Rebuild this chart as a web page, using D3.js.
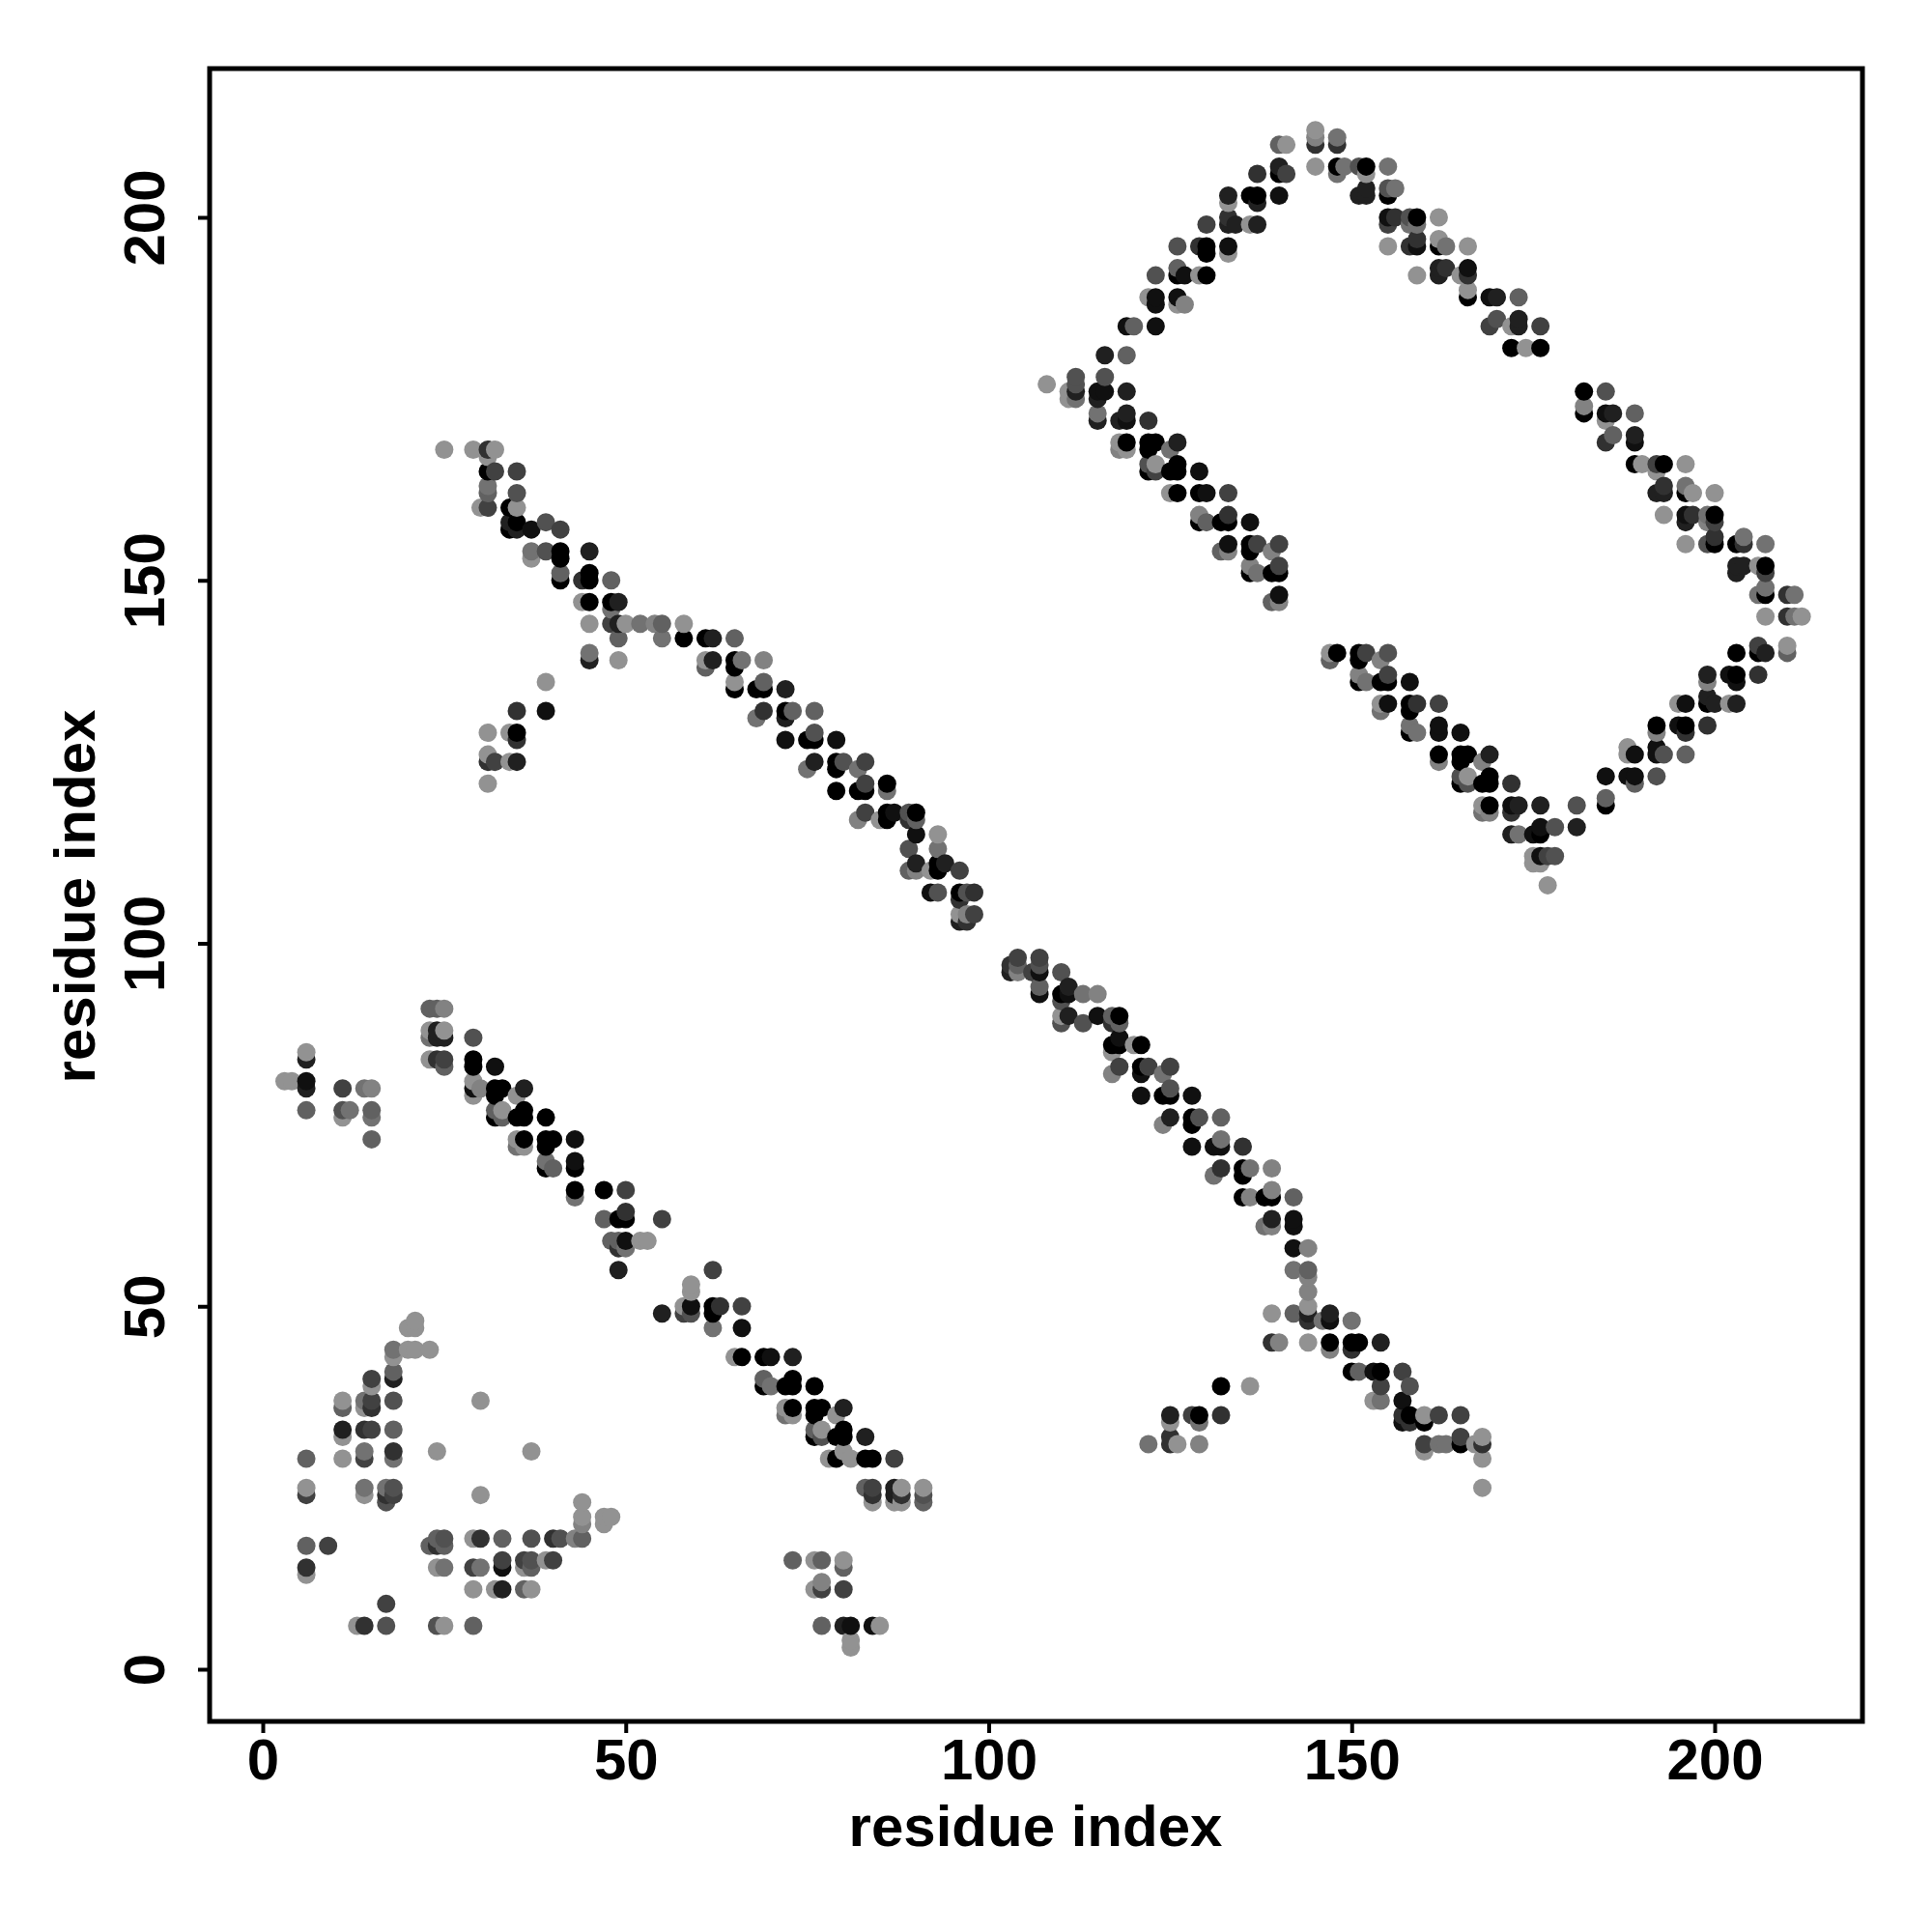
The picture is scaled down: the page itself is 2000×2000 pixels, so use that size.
<!DOCTYPE html>
<html><head><meta charset="utf-8">
<script src="https://cdn.jsdelivr.net/npm/d3@7"></script>
<style>html,body{margin:0;background:#fff}svg{display:block}text{font-family:"Liberation Sans",sans-serif;font-weight:700;fill:#000}</style>
</head><body><svg id="c" width="2000" height="2000"></svg>
<script>
// each contact: [residue i, residue j, confidence 0..9]
const nativeLowerLeft=[[13,6,0],[14,6,6],[17,6,4],[24,6,4],[25,6,0],[29,6,3],[17,9,5],[29,11,0],[32,11,0],[33,11,7],[36,11,3],[37,11,0],
[6,13,0],[6,14,6],[24,14,0],[25,14,2],[29,14,5],[30,14,2],[33,14,8],[36,14,0],[37,14,3],
[33,15,5],[36,15,5],[37,15,4],[39,15,0],[40,15,5],
[6,17,3],[9,17,5],[23,17,3],[24,17,6],[25,17,3],[24,18,3],[25,18,4],[29,18,0],[30,18,6],[33,18,3],[37,18,4],[40,18,6],[41,18,4],[43,18,1],[44,18,3],
[44,20,1],[47,20,0],[44,21,0],[47,21,0],[48,21,0],[44,23,0],[17,23,4],[6,24,5],[14,24,0],[17,24,6],[18,24,5],[30,24,0],[6,25,0],[14,25,2],[17,25,2],[18,25,4],
[6,29,3],[11,29,0],[14,29,5],[18,29,2],[14,30,2],[18,30,6],[24,30,0],[37,30,0],[11,32,0],[11,33,7],[14,33,6],[15,33,5],[18,33,3],[11,36,3],[14,36,0],[15,36,6],[11,37,0],[14,37,2],[15,37,5],[18,37,4],[30,37,0],[15,39,0],[15,40,5],[18,40,7],[18,41,3],[18,43,0],[18,44,2],[20,44,0],[21,44,0],[23,44,0],[20,47,0],[21,47,0],[21,48,0]];
const strandUpperLeft=[[6,85,0],[6,84,7],[3,81,0],[4,81,0],[6,81,8],[6,80,7],[6,77,3],[11,80,5],[14,80,2],[15,80,1],[11,77,4],[11,76,0],[12,77,2],[15,77,3],[15,76,2],[15,73,3],
[23,91,3],[24,91,3],[25,91,1],[23,88,0],[24,88,7],[25,88,0],[23,87,2],[24,87,7],[25,87,7],[23,84,0],[24,84,6],[25,84,5],[25,83,3],
[29,87,4],[29,84,9],[29,83,9],[29,81,0],[29,80,8],[30,80,1],[29,79,0],[32,83,8],[32,80,9],[33,80,9],[36,80,7],[32,79,9],[35,79,0],[32,77,3],[33,77,0],[36,77,9],[32,76,9],[33,76,3],[35,76,9],[36,76,9],[39,76,9],
[35,73,0],[36,73,9],[39,73,9],[40,73,9],[43,73,8],[35,72,2],[36,72,0],[39,72,9],[39,70,2],[43,70,8],[39,69,9],[40,69,3],[43,69,9],
[43,66,9],[47,66,9],[50,66,5],[43,65,2],[47,62,3],[49,62,9],[50,62,9],[50,63,6],[55,62,5],[48,59,3],[49,59,3],[50,59,8],[52,59,0],[53,59,0],[49,58,6],[50,58,2],[49,55,7]];
const strandLowerMid=[[62,55,5],[59,53,0],[59,52,0],[59,50,8],[58,50,0],[59,49,4],[58,49,5],[55,49,7],[62,50,9],[63,50,6],[66,50,5],[62,49,9],[62,47,2],[66,47,8],
[65,43,0],[66,43,9],[69,43,9],[70,43,8],[73,43,7],[69,40,3],[70,39,2],[69,39,9],[72,39,9],[73,40,9],[73,39,9],[76,39,9],
[72,36,0],[73,36,9],[76,36,9],[77,36,9],[80,36,7],[72,35,2],[73,35,0],[76,35,9],[79,35,0],[76,33,3],[77,33,0],[80,33,9],[76,32,9],[77,32,4],[79,32,9],[80,32,9],[83,32,7],
[78,29,0],[79,29,9],[80,30,0],[81,29,0],[83,29,9],[84,29,9],[87,29,5],[83,25,3],[84,25,5],[84,24,6],[84,23,0],[87,25,7],[87,24,7],[87,23,0],[88,25,0],[88,24,6],[88,23,0],[91,25,0],[91,24,4],[91,23,3],
[73,15,3],[76,15,0],[77,15,3],[80,15,0],[80,14,3],[77,12,1],[76,11,0],[77,11,5],[80,11,5],[77,6,3],[80,6,7],[81,6,8],[84,6,8],[85,6,0],[81,4,0],[81,3,0]];
const strandCentreUpper=[[25,168,0],[29,168,0],[31,168,6],[32,168,0],[31,167,0],[31,165,9],[32,165,5],[35,165,5],[31,163,2],[31,162,3],[35,162,4],[30,160,0],[31,160,5],[34,160,9],[35,160,0],
[34,158,7],[35,158,9],[34,157,9],[35,157,7],[37,157,8],[39,158,4],[41,157,5],[37,154,2],[37,153,0],[39,154,4],[41,154,9],[41,153,9],[45,154,7],
[41,151,3],[41,150,9],[45,151,9],[45,150,9],[44,150,6],[48,150,3],[44,147,0],[45,147,9],[48,147,9],[49,147,7],[48,146,2],[48,144,5],[49,144,7],[50,144,0],[45,144,0],[52,144,2],[54,144,1],[55,144,3],[58,144,0],
[49,142,3],[55,142,2],[58,142,9],[61,142,9],[62,142,7],[65,142,3],[45,140,2],[45,139,7],[49,139,0],[61,139,0],[62,139,7],[61,138,3],[65,139,9],[66,139,2],[65,138,9],[69,139,1],
[65,136,0],[65,135,9],[68,135,9],[69,136,3],[69,135,9],[72,135,7],[35,132,6],[39,132,8],[39,136,0],[31,129,0],[34,129,0],[35,129,9],[35,128,6],[31,126,0],[31,125,6],[32,125,5],[34,125,0],[35,125,7],[31,122,0],
[69,132,6],[68,131,2],[72,132,9],[72,131,7],[73,132,3],[76,132,3],[72,128,8],[75,128,9],[76,128,9],[76,129,4],[79,128,8],[76,125,7],[75,124,2],[79,125,9],[79,124,9],[80,125,4],[82,124,2],[83,125,5],
[79,121,9],[82,121,9],[83,121,9],[83,122,5],[86,122,9],[86,121,2],[83,118,5],[82,117,1],[85,117,0],[86,118,9],[86,117,9],[87,118,8],[89,118,4],[89,117,6],[90,118,9],[90,117,3],
[90,115,8],[93,115,0],[89,113,4],[93,113,2],[90,111,7],[89,110,3],[90,110,1],[92,110,0],[93,111,9],[93,110,9],[94,111,7],[96,110,5],[92,107,8],[93,107,4],[96,107,9],[97,107,4],[98,107,6],[96,106,6],
[96,104,0],[97,104,1],[98,104,5],[96,103,7],[97,103,6]];
const strandCentreLower=[[103,97,6],[103,96,7],[104,98,5],[104,97,3],[104,96,1],[106,96,5],[107,98,5],[107,97,4],[107,96,8],[107,94,3],[107,93,8],[110,96,4],[110,93,9],[111,94,7],[111,93,8],[110,92,4],[113,93,2],[115,93,1],
[110,90,0],[110,89,4],[111,90,7],[113,89,4],[115,90,8],[117,90,3],[117,89,6],[118,90,9],[118,89,3],[118,87,8],[117,86,9],[118,86,9],[117,85,0],[120,86,0],[121,86,9],[117,82,1],[118,83,5],
[121,83,9],[121,82,8],[122,83,5],[124,82,2],[125,83,5],[121,79,8],[124,79,9],[125,79,9],[125,80,4],[128,79,8],[125,76,7],[124,75,1],[128,76,9],[128,75,9],[129,76,4],[132,76,3],
[128,72,8],[131,72,8],[132,72,8],[132,73,2],[135,72,6],[132,69,6],[131,68,2],[135,69,9],[135,68,9],[136,69,2],[139,69,1],[135,65,9],[136,65,1],[138,65,9],[139,65,9],[139,66,1],[142,65,3],
[138,61,2],[139,62,7],[139,61,1],[142,62,8],[142,61,8],[142,58,8],[144,58,1],[142,55,2],[144,55,3],[144,54,1],[144,52,1],[144,50,0],[142,49,3],[139,49,0],[144,49,7],[144,48,6],[146,48,2],[147,49,7],[147,48,8],[150,48,2],
[139,45,6],[140,45,1],[144,45,0],[147,45,9],[147,44,1],[150,45,9],[151,45,9],[150,44,6],[154,45,7],[150,41,9],[151,41,3],[153,41,8],[154,41,9],[157,41,5],[154,39,5],[158,39,4],[153,37,0],[154,37,2],[157,37,8],
[157,35,6],[157,34,8],[158,35,9],[158,34,6],[160,35,0],[160,34,9],[162,35,5],[165,35,5],[160,31,5],[160,30,0],[162,31,2],[163,31,2],[165,32,5],[165,31,9],[167,31,0],[168,32,0],[168,31,6],[168,29,0],[168,25,0],
[132,39,9],[136,39,0],[125,35,7],[125,34,0],[128,35,5],[129,35,9],[129,34,2],[132,35,6],[122,31,2],[125,32,6],[125,31,6],[126,31,0],[129,31,1]];
const loopInnerUpper=[[108,177,0],[111,176,0],[111,175,0],[112,178,4],[112,177,4],[112,176,7],[112,175,2],[115,176,8],[115,175,7],[116,176,8],[116,178,4],[119,176,7],
[115,173,2],[115,172,7],[118,172,7],[119,173,7],[119,172,8],[122,172,6],[118,169,0],[118,168,1],[119,169,9],[119,168,0],[122,169,9],[122,168,9],[123,169,9],[126,169,7],[125,168,2],
[122,166,4],[122,165,9],[123,166,0],[123,165,5],[125,165,9],[126,166,9],[126,165,9],[129,165,8],[125,162,0],[126,162,9],[129,162,9],[130,162,8],[133,162,5],
[129,159,1],[129,158,9],[130,158,3],[132,158,9],[133,159,6],[133,158,9],[136,158,8],[132,154,3],[133,155,8],[133,154,1],[136,155,9],[136,154,9],[137,155,5],[140,155,5],[139,154,1],
[136,152,1],[136,151,9],[137,151,2],[139,151,9],[140,152,5],[140,151,9],[139,147,3],[140,148,8],[140,147,1]];
const loopOuterLeft=[[140,210,3],[141,210,0],[140,207,7],[137,206,6],[140,206,9],[141,206,5],[133,203,7],[133,202,0],[136,203,9],[137,203,9],[137,202,7],[140,203,8],
[130,199,5],[133,200,6],[133,199,7],[134,199,7],[136,199,0],[137,199,7],[126,196,4],[129,196,6],[130,196,9],[130,195,9],[133,196,8],[133,195,0],
[123,192,4],[126,193,3],[126,192,9],[127,192,8],[129,192,0],[130,192,9],[122,189,0],[123,189,8],[123,188,8],[126,189,8],[126,188,0],[127,188,1],[119,185,8],[120,185,3],[123,185,8],[116,181,7],[119,181,3]];
const loopOuterTop=[[145,212,0],[145,211,1],[145,210,6],[148,211,2],[148,210,6],[145,207,0],[148,207,9],[149,207,2],[148,206,2],[151,207,4],[152,207,9],[152,206,0],[155,207,2],
[151,203,7],[152,204,7],[152,203,7],[155,204,4],[155,203,9],[156,204,2],[155,200,8],[155,199,5],[156,200,6],[158,200,4],[158,199,2],[159,200,9],[159,199,2],[162,200,0],
[155,196,0],[158,196,6],[159,197,6],[159,196,8],[162,197,0],[162,196,9],[163,196,2],[166,196,0],[159,192,0],[162,193,7],[162,192,7],[163,193,6],[165,192,0],[166,193,8],[166,192,6],
[166,190,0],[166,189,9],[169,189,8],[170,189,7],[173,189,3],[169,185,5],[170,186,4],[172,185,0],[173,186,7],[173,185,7],[176,185,5],[172,182,9],[174,182,0],[176,182,9]];
const loopOuterRight=[[182,176,9],[185,176,4],[182,174,1],[182,173,9],[185,173,8],[186,173,7],[185,172,0],[189,173,3],[185,169,6],[186,170,3],[189,170,7],[189,169,8],
[189,166,9],[190,166,0],[192,166,5],[192,165,0],[193,166,9],[196,166,0],[192,162,7],[193,163,6],[193,162,7],[196,163,2],[196,162,9],[197,162,0],[200,162,0],
[193,159,0],[196,159,8],[196,158,7],[197,159,6],[199,159,2],[199,158,1],[200,159,9],[200,158,5],[196,155,0],[199,155,4],[200,156,6],[200,155,9],[203,155,9],[204,156,2],[204,155,6],[207,155,2],
[203,152,7],[203,151,7],[204,152,7],[206,152,0],[207,152,9],[207,151,5],[206,148,2],[207,149,2],[207,148,9],[210,148,6],[211,148,2],[207,145,0],[210,145,6],[211,145,2],[212,145,0]];
const loopInnerLower=[[147,140,0],[148,140,9],[147,139,3],[151,140,9],[151,139,9],[152,140,5],[154,139,1],[155,140,4],[151,137,1],[151,136,9],[152,136,2],[154,136,9],[155,137,5],[155,136,9],[158,136,8],
[154,133,0],[154,132,2],[155,133,8],[158,133,9],[158,132,9],[159,133,6],[162,133,5],[158,130,2],[158,129,9],[159,129,2],[162,130,8],[162,129,8],[165,129,8],
[162,126,9],[162,125,1],[165,126,9],[165,125,9],[166,126,9],[169,126,7],[168,125,1],[165,123,4],[165,122,9],[166,123,0],[166,122,4],[168,122,9],[169,123,9],[169,122,9],[172,122,6],
[168,119,0],[168,118,2],[169,119,9],[169,118,1],[172,119,8],[172,118,6],[173,119,7],[176,119,7],[181,119,4],[172,115,7],[173,115,2],[175,115,8],[176,116,8],[176,115,9],[178,116,4],[181,116,7],
[175,112,0],[175,111,0],[176,112,8],[176,111,0],[177,112,5],[178,112,4],[177,108,0]];
const loopRising=[[185,120,3],[185,119,9],[185,123,8],[188,123,8],[189,123,8],[189,122,3],[192,123,4],[188,127,0],[188,126,0],[189,126,8],[192,127,8],[192,126,8],[193,126,4],[196,126,3],
[192,130,9],[192,129,1],[195,130,8],[196,130,9],[196,129,6],[199,130,6],[195,133,0],[196,133,8],[199,134,7],[199,133,9],[200,133,7],[202,133,0],[203,133,7],[199,137,7],[199,136,1],[202,137,8],[203,137,9],[203,136,8],[206,137,6],
[203,140,9],[206,141,5],[206,140,9],[207,140,7],[210,141,0],[210,140,3]];
const xTicks=[0,50,100,150,200];
const yTicks=[0,50,100,150,200];
const axisTitle="residue index";

const contacts=[nativeLowerLeft,strandUpperLeft,strandLowerMid,strandCentreUpper,strandCentreLower,loopInnerUpper,loopOuterLeft,loopOuterTop,loopOuterRight,loopInnerLower,loopRising]
  .flat().sort((a,b)=>d3.ascending(a[0],b[0])||d3.ascending(a[1],b[1]));

const L=217,R=1928,T=71,B=1782;
const x=d3.scaleLinear().domain([0,200]).range([272,1775]);
const y=d3.scaleLinear().domain([0,200]).range([1728,225]);
const grey=d3.scaleLinear().domain([0,9]).range([146,0]);
const svg=d3.select("#c");

svg.append("g").selectAll("circle").data(contacts).join("circle")
  .attr("cx",d=>x(d[0])).attr("cy",d=>y(d[1])).attr("r",9.5)
  .attr("fill",d=>{const g=Math.round(grey(d[2]));return `rgb(${g},${g},${g})`;});

svg.append("rect").attr("x",L).attr("y",T).attr("width",R-L).attr("height",B-T)
  .attr("fill","none").attr("stroke","#000").attr("stroke-width",5);

const fs=60;
const gx=svg.append("g").attr("transform",`translate(0,${B})`)
  .call(d3.axisBottom(x).tickValues(xTicks).tickSize(12).tickPadding(5));
const gy=svg.append("g").attr("transform",`translate(${L},0)`)
  .call(d3.axisLeft(y).tickValues(yTicks).tickSize(12));
[gx,gy].forEach(g=>{g.select(".domain").remove();g.selectAll("line").attr("stroke","#000").attr("stroke-width",4);
  g.selectAll("text").style("font-size",fs+"px").attr("fill","#000");});
gy.selectAll("text").attr("x",null).attr("dy",null).attr("text-anchor","middle")
  .attr("transform","translate(-47,0) rotate(-90)").attr("y",0);
svg.append("text").attr("x",1072).attr("y",1911).attr("text-anchor","middle").style("font-size","60px").text(axisTitle);
svg.append("text").attr("transform",`translate(98,928) rotate(-90)`).attr("text-anchor","middle").style("font-size","60px").text(axisTitle);
</script></body></html>
